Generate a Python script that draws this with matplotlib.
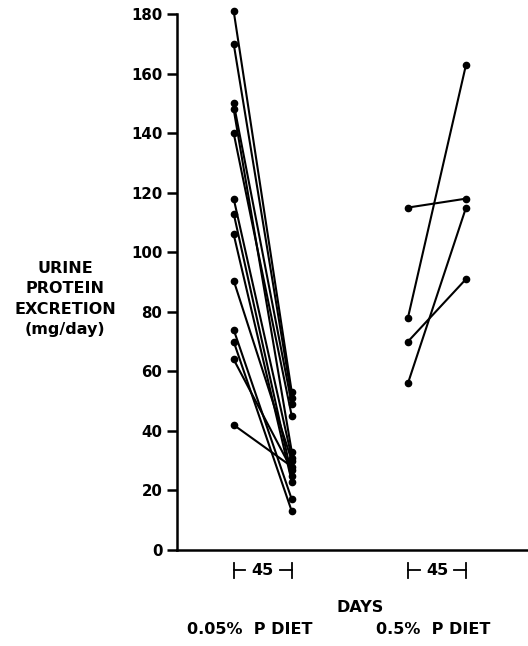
import matplotlib.pyplot as plt
import matplotlib.transforms as mtransforms

# data (urine protein, mg/day)
low_p_start = [181, 170, 150, 148, 140, 118, 113, 106, 90.5, 74, 70, 64, 42]
low_p_end = [53, 51, 49, 33, 45, 31, 25, 23, 30, 17, 13, 27, 28]
high_p_start = [115, 78, 70, 56]
high_p_end = [118, 163, 91, 115]

period_days = 45
high_offset = 135   # where the second 45-day period sits on the x axis
yticks = [0, 20, 40, 60, 80, 100, 120, 140, 160, 180]

plt.rcParams['font.family'] = ['DejaVu Sans']

fig = plt.figure(figsize=(5.28, 6.46), dpi=100)
ax = fig.add_axes([0.335, 0.1486, 0.665, 0.8297])

for s, e in zip(low_p_start, low_p_end):
    ax.plot([0, period_days], [s, e], color='black', lw=1.5,
            marker='o', ms=4.5, clip_on=False)
for s, e in zip(high_p_start, high_p_end):
    ax.plot([high_offset, high_offset + period_days], [s, e], color='black',
            lw=1.5, marker='o', ms=4.5, clip_on=False)

ax.set_xlim(-44, 228)
ax.set_ylim(0, 180)
ax.set_yticks(yticks)
ax.set_yticklabels([str(t) for t in yticks], fontsize=10.8, fontweight='bold')
ax.tick_params(axis='y', direction='out', length=7.5, width=1.8, pad=3)
ax.set_xticks([])

for side in ['top', 'right']:
    ax.spines[side].set_visible(False)
ax.spines['left'].set_linewidth(1.8)
ax.spines['bottom'].set_linewidth(1.8)

# "|-45-|" period brackets under the x axis
trans = mtransforms.blended_transform_factory(ax.transData, ax.transAxes)
yb = -0.038
dh = 0.014
for x0 in [0, high_offset]:
    x1 = x0 + period_days
    ax.plot([x0, x0], [yb - dh, yb + dh], color='black', lw=1.3,
            transform=trans, clip_on=False)
    ax.plot([x1, x1], [yb - dh, yb + dh], color='black', lw=1.3,
            transform=trans, clip_on=False)
    ax.plot([x0, x0 + 9], [yb, yb], color='black', lw=1.3,
            transform=trans, clip_on=False)
    ax.plot([x1 - 9, x1], [yb, yb], color='black', lw=1.3,
            transform=trans, clip_on=False)
    ax.text((x0 + x1) / 2, yb, '45', transform=trans, ha='center',
            va='center', fontsize=11.5, fontweight='bold')

fig.text(360 / 528, 1 - 607 / 646, 'DAYS', ha='center', va='center',
         fontsize=11.5, fontweight='bold')
fig.text(250 / 528, 1 - 629 / 646, '0.05%  P DIET', ha='center', va='center',
         fontsize=11.5, fontweight='bold')
fig.text(433 / 528, 1 - 629 / 646, '0.5%  P DIET', ha='center', va='center',
         fontsize=11.5, fontweight='bold')

fig.text(65 / 528, 1 - 299 / 646, 'URINE\nPROTEIN\nEXCRETION\n(mg/day)',
         ha='center', va='center', fontsize=11.5, fontweight='bold',
         linespacing=1.45)

fig.savefig('out.png', dpi=100)
